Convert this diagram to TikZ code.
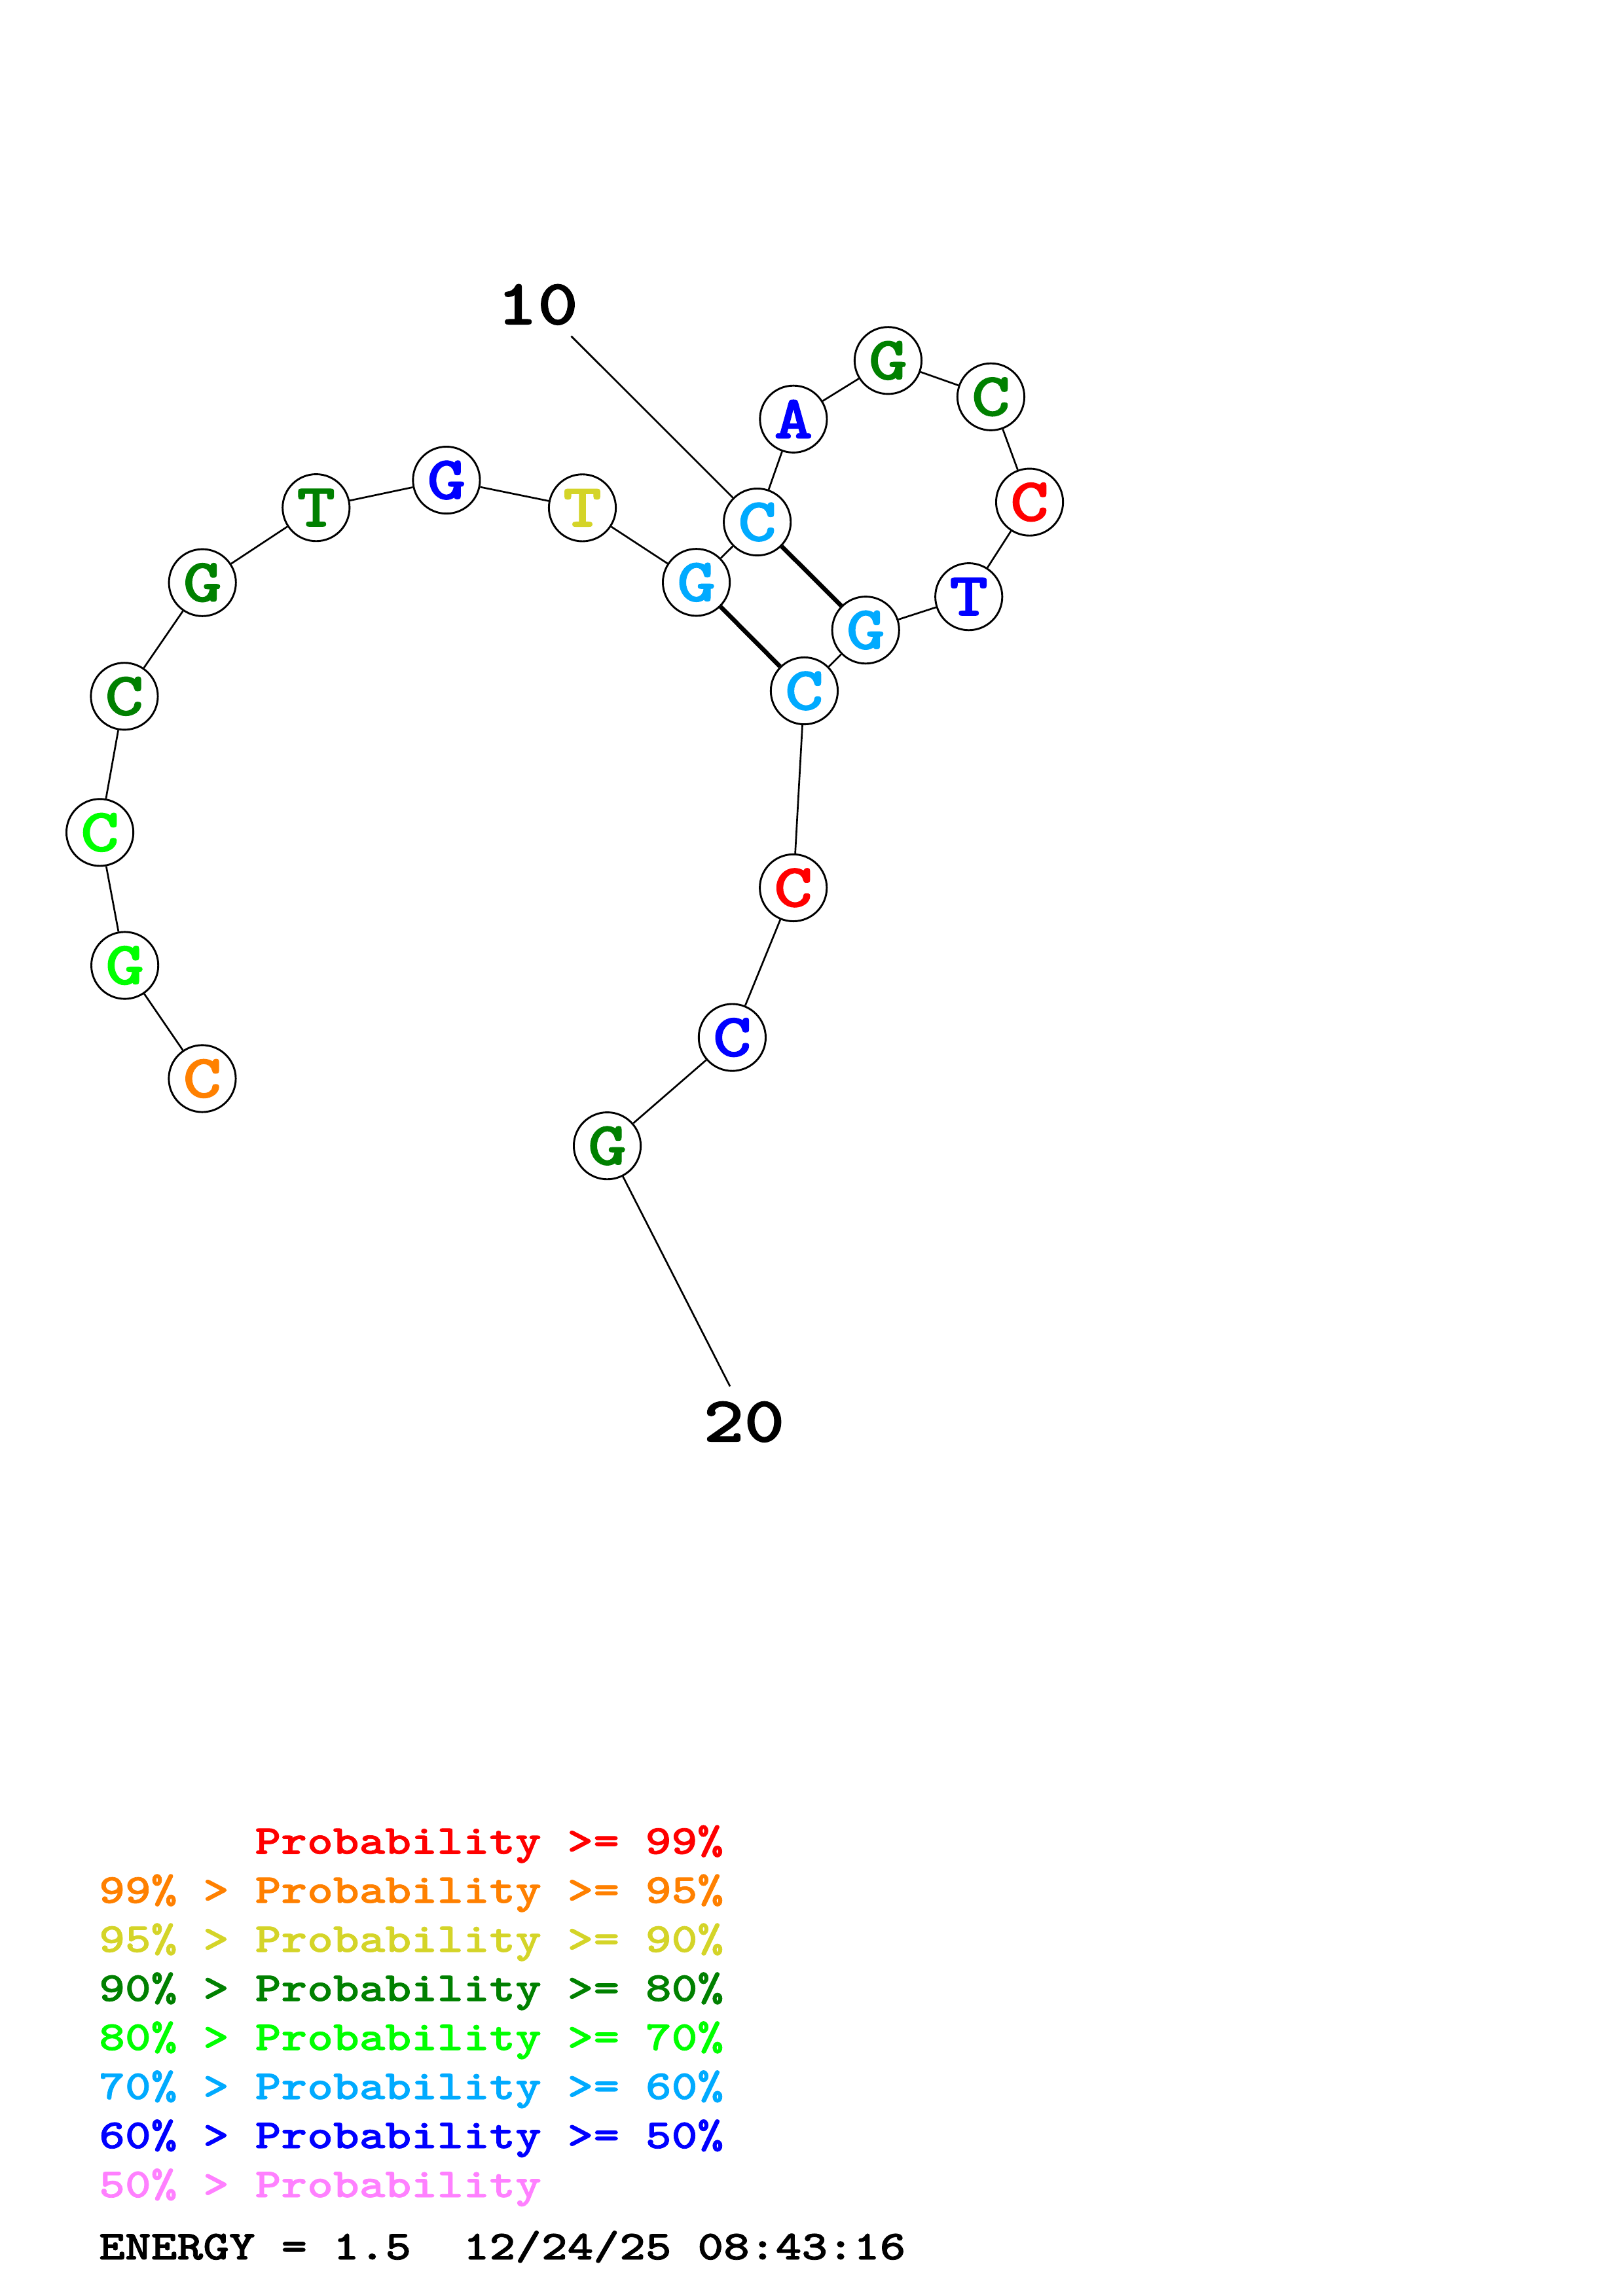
\documentclass[tikz,border=0pt]{standalone}
\usepackage{fontspec}
\usepackage{tikz}
\usetikzlibrary{positioning, calc}

\newfontfamily\mono{lmmonolt10-bold.otf}[FakeStretch=1.2, FakeBold=1.2]

\definecolor{rojo}{RGB}{255,0,0}
\definecolor{naranja}{RGB}{255,128,0}
\definecolor{amarillo}{RGB}{212,212,40}
\definecolor{verdeoscuro}{RGB}{0,128,0}
\definecolor{verdelima}{RGB}{0,255,0}
\definecolor{celeste}{RGB}{0,170,255}
\definecolor{azul}{RGB}{0,0,255}
\definecolor{rosa}{RGB}{255,128,255}

\begin{document}
\begin{tikzpicture}[
    x=1pt, y=-1pt,
    every path/.style={line width=1.2pt}
]
    \tikzset{
        nucleotido/.style={circle, draw, fill=white, line width=1.3pt, minimum size=45.7pt,
            inner sep=0pt, font=\mono\fontsize{42}{42}\selectfont},
        par/.style={line width=3pt},
        etiqueta/.style={inner sep=0pt, font=\mono\fontsize{44}{44}\selectfont},
        leyenda/.style={anchor=base west, inner sep=0pt, font=\mono\fontsize{28.2}{28.2}\selectfont}
    }
    \useasboundingbox (0,0) rectangle (1108,1568);

    % Nucleotidos
    \node[nucleotido, text=naranja]     (1)  at (138.1,736.6) {C};
    \node[nucleotido, text=verdelima]   (2)  at (85.2,659.3)  {G};
    \node[nucleotido, text=verdelima]   (3)  at (68.2,568.5)  {C};
    \node[nucleotido, text=verdeoscuro] (4)  at (84.9,475.5)  {C};
    \node[nucleotido, text=verdeoscuro] (5)  at (138.2,397.9) {G};
    \node[nucleotido, text=verdeoscuro] (6)  at (215.8,346.7) {T};
    \node[nucleotido, text=azul]        (7)  at (304.8,327.9) {G};
    \node[nucleotido, text=amarillo]    (8)  at (397.6,346.8) {T};
    \node[nucleotido, text=celeste]     (9)  at (475.4,397.7) {G};
    \node[nucleotido, text=celeste]     (10) at (517.0,356.5) {C};
    \node[nucleotido, text=azul]        (11) at (541.7,286.2) {A};
    \node[nucleotido, text=verdeoscuro] (12) at (606.3,246.2) {G};
    \node[nucleotido, text=verdeoscuro] (13) at (676.5,271.0) {C};
    \node[nucleotido, text=rojo]        (14) at (702.9,342.9) {C};
    \node[nucleotido, text=azul]        (15) at (661.4,407.5) {T};
    \node[nucleotido, text=celeste]     (16) at (591.0,430.3) {G};
    \node[nucleotido, text=celeste]     (17) at (549.1,471.8) {C};
    \node[nucleotido, text=rojo]        (18) at (541.6,606.3) {C};
    \node[nucleotido, text=azul]        (19) at (499.9,708.5) {C};
    \node[nucleotido, text=verdeoscuro] (20) at (414.6,782.5) {G};

    % Esqueleto
    \draw (1) -- (2);
    \draw (2) -- (3);
    \draw (3) -- (4);
    \draw (4) -- (5);
    \draw (5) -- (6);
    \draw (6) -- (7);
    \draw (7) -- (8);
    \draw (8) -- (9);
    \draw (9) -- (10);
    \draw (10) -- (11);
    \draw (11) -- (12);
    \draw (12) -- (13);
    \draw (13) -- (14);
    \draw (14) -- (15);
    \draw (15) -- (16);
    \draw (16) -- (17);
    \draw (17) -- (18);
    \draw (18) -- (19);
    \draw (19) -- (20);

    % Pares
    \draw[par] (9) -- (17);
    \draw[par] (10) -- (16);

    % Numeracion
    \node[etiqueta] (et10) at (367,208) {10};
    \coordinate (c10) at (390,229.6);
    \draw (c10) -- (10);
    \node[etiqueta] (et20) at (508,971) {20};
    \coordinate (c20) at (498.4,946.8);
    \draw (20) -- (c20);

    % Leyenda
    \node[leyenda, text=rojo]        (ley1) at (173.5,1266)   {Probability >= 99\%};
    \node[leyenda, text=naranja]     (ley2) at (67,1299.5)    {99\% > Probability >= 95\%};
    \node[leyenda, text=amarillo]    (ley3) at (67,1333)      {95\% > Probability >= 90\%};
    \node[leyenda, text=verdeoscuro] (ley4) at (67,1366.5)    {90\% > Probability >= 80\%};
    \node[leyenda, text=verdelima]   (ley5) at (67,1400)      {80\% > Probability >= 70\%};
    \node[leyenda, text=celeste]     (ley6) at (67,1433.5)    {70\% > Probability >= 60\%};
    \node[leyenda, text=azul]        (ley7) at (67,1467)      {60\% > Probability >= 50\%};
    \node[leyenda, text=rosa]        (ley8) at (67,1500.5)    {50\% > Probability};
    \node[leyenda, text=black]       (energia) at (67,1543)   {ENERGY = 1.5\ \ 12/24/25 08:43:16};
\end{tikzpicture}
\end{document}
